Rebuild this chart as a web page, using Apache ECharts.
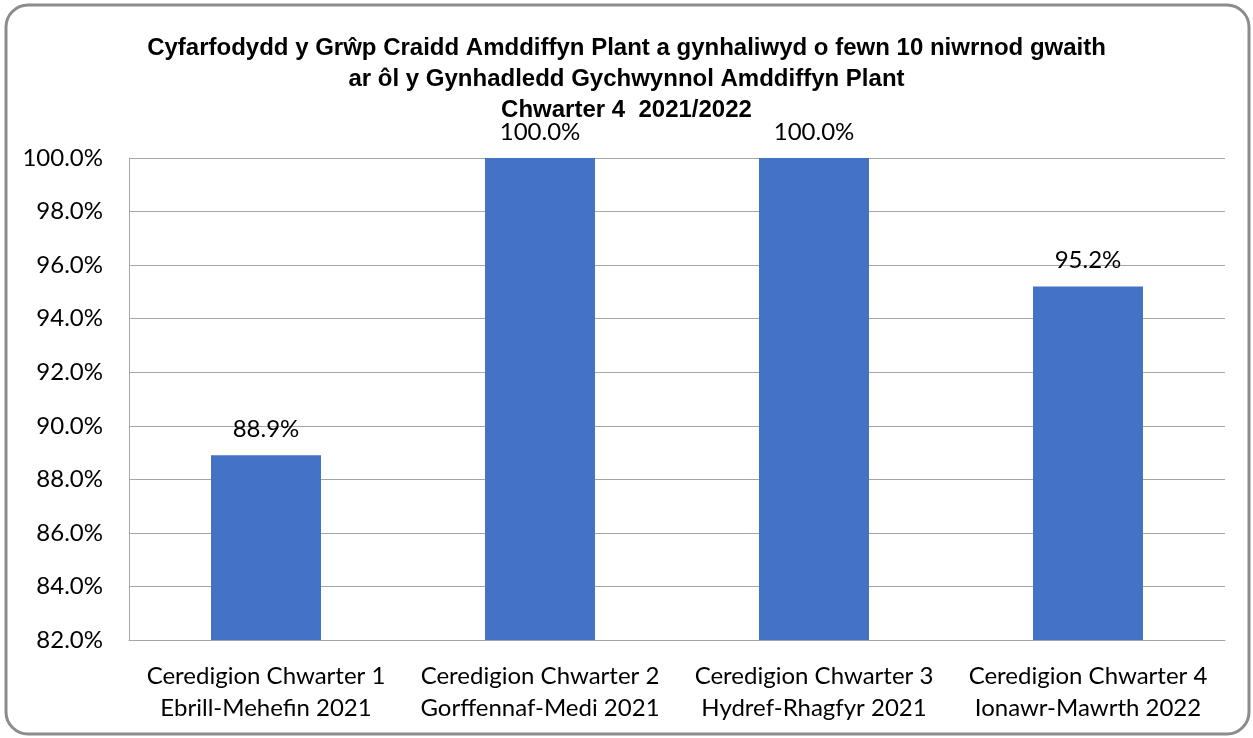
<!DOCTYPE html>
<html><head><meta charset="utf-8">
<script src="https://cdn.jsdelivr.net/npm/echarts@6/dist/echarts.min.js"></script>
<style>html,body{margin:0;padding:0;background:#fff}#c{width:1253px;height:738px}</style>
</head><body><div id="c"></div>
<script>
const categories = ["Ceredigion Chwarter 1\nEbrill-Mehefin 2021","Ceredigion Chwarter 2\nGorffennaf-Medi 2021","Ceredigion Chwarter 3\nHydref-Rhagfyr 2021","Ceredigion Chwarter 4\nIonawr-Mawrth 2022"];
const values = [88.9, 100.0, 100.0, 95.2];
const titleText = "Cyfarfodydd y Grŵp Craidd Amddiffyn Plant a gynhaliwyd o fewn 10 niwrnod gwaith\nar ôl y Gynhadledd Gychwynnol Amddiffyn Plant\nChwarter 4  2021/2022";
const yMin = 82, yMax = 100, yStep = 2;

const chart = echarts.init(document.getElementById('c'));
chart.setOption({
  animation:false,
  graphic:[{type:'rect',shape:{x:6,y:5,width:1243,height:729,r:22},style:{fill:'none',stroke:'#8c8c8c',lineWidth:3},z:-1}],
  title:{text:titleText,left:'center',top:28,textStyle:{fontFamily:'"Liberation Sans Narrow","Liberation Sans",Arial',fontWeight:'bold',fontSize:24,lineHeight:31,color:'#000'}},
  grid:{left:129,right:28,top:158,bottom:98},
  xAxis:{type:'category',data:categories,axisTick:{show:false},axisLine:{lineStyle:{color:'#a6a6a6'}},
    axisLabel:{fontFamily:'Lato, "Open Sans", sans-serif',fontSize:24,lineHeight:32,color:'#000',margin:20,interval:0}},
  yAxis:{type:'value',min:yMin,max:yMax,interval:yStep,
    axisLine:{show:true,lineStyle:{color:'#a6a6a6'}},axisTick:{show:false},
    splitLine:{lineStyle:{color:'#a6a6a6'}},
    axisLabel:{formatter:v=>v.toFixed(1)+'%',fontFamily:'Lato, "Open Sans", sans-serif',fontSize:24,color:'#000',margin:26}},
  series:[{type:'bar',data:values,barWidth:110,itemStyle:{color:'#4472c4'},
    label:{show:true,position:'top',distance:14,formatter:p=>p.value.toFixed(1)+'%',fontFamily:'Lato, "Open Sans", sans-serif',fontSize:24,color:'#000'}}]
});
</script></body></html>
